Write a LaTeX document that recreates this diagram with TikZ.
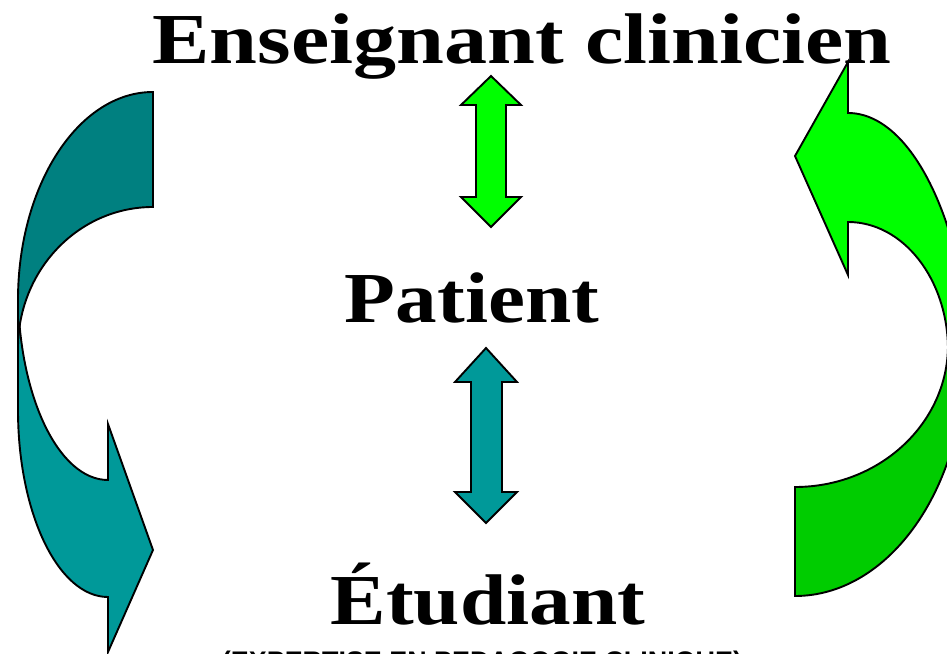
\documentclass[tikz,border=0pt]{standalone}
\usepackage{fontspec}
\setmainfont{Liberation Serif}
\newfontfamily\lowfont{Liberation Sans}
\definecolor{tealA}{HTML}{008080}
\definecolor{tealB}{HTML}{009999}
\definecolor{greenA}{HTML}{00FF00}
\definecolor{greenB}{HTML}{00CC00}
\tikzset{
  band/.style={draw=black, line width=1.9bp, line join=miter},
  bigtext/.style={inner sep=0pt, anchor=base, font=\fontsize{72}{80}\selectfont\bfseries},
}
\begin{document}
\begin{tikzpicture}[x=1bp, y=-1bp]
\useasboundingbox (0,0) rectangle (947,654);
\clip (0,0) rectangle (947,654);
% left curved arrow: lower band first
\path[band, fill=tealB] (18,290) -- (18,410)
  arc[start angle=180, end angle=90, x radius=90, y radius=187]
  -- (108,652) -- (153,550) -- (108,424) -- (108,480)
  arc[start angle=90, end angle=180, x radius=90, y radius=190] -- cycle;
\path[band, fill=tealA] (153,92)
  arc[start angle=270, end angle=180, x radius=135, y radius=208]
  -- (18,348)
  arc[start angle=180, end angle=270, x radius=135, y radius=141] -- cycle;
% right curved arrow
\path[band, fill=greenB] (795,596)
  arc[start angle=90, end angle=0, x radius=170, y radius=240]
  -- (948,345)
  arc[start angle=0, end angle=90, x radius=153, y radius=142] -- cycle;
\path[band, fill=greenA] (848,222) -- (848,275) -- (795,156) -- (848,62) -- (848,113)
  arc[start angle=270, end angle=360, x radius=125, y radius=287]
  -- (948,350)
  arc[start angle=0, end angle=-90, x radius=100, y radius=128] -- cycle;
% texts
\node[bigtext] (ens) at (522,64) {\scalebox{1.2}[1]{Enseignant clinicien}};
\node[bigtext] (pat) at (472,322) {\scalebox{1.16}[1]{Patient}};
\node[bigtext] (etu) at (488,624) {\scalebox{1.16}[1]{Étudiant}};
\node[inner sep=0pt, anchor=base, font=\lowfont\bfseries\fontsize{24}{28}\selectfont] (sub) at (482,670) {\resizebox{520bp}{!}{(EXPERTISE EN PEDAGOGIE CLINIQUE)}};
% central double arrows
\path[band, fill=greenA] (491,76) -- (521,105) -- (506,105) -- (506,197) -- (521,197) -- (491,227)
  -- (461,197) -- (476,197) -- (476,105) -- (461,105) -- cycle;
\path[band, fill=tealB] (486,348) -- (517,382) -- (502,382) -- (502,492) -- (517,492) -- (486,523)
  -- (455,492) -- (471,492) -- (471,382) -- (455,382) -- cycle;
\end{tikzpicture}
\end{document}
